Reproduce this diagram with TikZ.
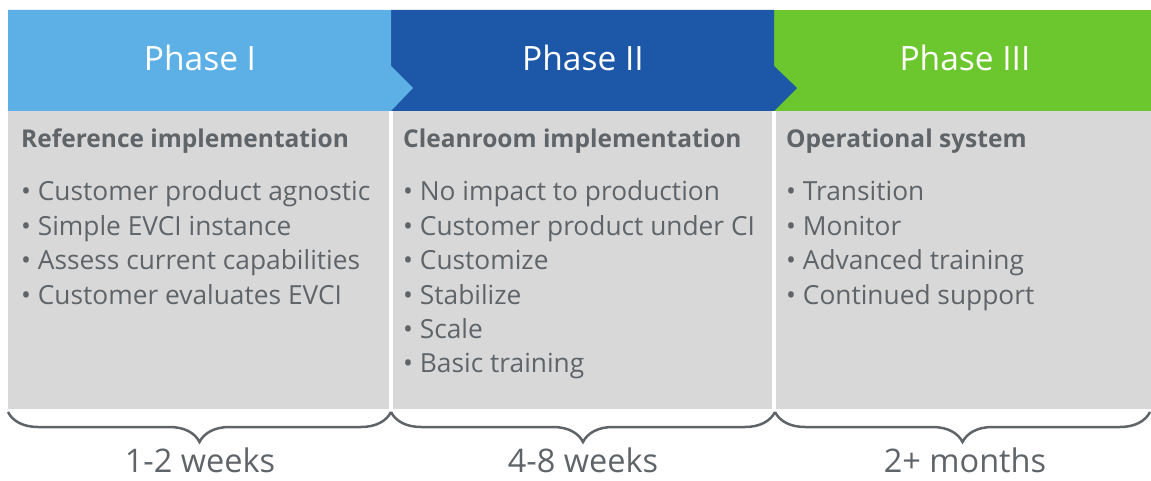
\documentclass[tikz,border=0pt]{standalone}
\usepackage{fontspec}
\setmainfont{Open Sans}
\usetikzlibrary{decorations.pathreplacing}

\definecolor{phaseone}{HTML}{5DB0E6}
\definecolor{phasetwo}{HTML}{1D57A7}
\definecolor{phasethree}{HTML}{6CC72E}
\definecolor{panel}{HTML}{D8D8D8}
\definecolor{ink}{HTML}{5F6469}

\begin{document}
\begin{tikzpicture}[x=1pt, y=-1pt,
		head/.style={text=white, font=\fontsize{33.5}{33.5}\selectfont, anchor=base, inner sep=0},
		panelbox/.style={fill=panel, anchor=north west, inner sep=0, minimum height=298pt},
		title/.style={text=ink, font=\bfseries\fontsize{24.5}{28}\selectfont, anchor=base west, inner sep=0},
		item/.style={text=ink, font=\fontsize{26.3}{30}\selectfont, anchor=base west, inner sep=0},
		span/.style={draw=ink, line width=2.5pt, decorate, decoration={brace, amplitude=30pt, mirror}},
		timespan/.style={text=ink, font=\fontsize{32.5}{32.5}\selectfont, anchor=base, inner sep=0}]
		\useasboundingbox (0,0) rectangle (1151,481);

		% headers
		\fill[phasethree] (774,10) rectangle (1151,111);
		\fill[phasetwo] (391,10) -- (774,10) -- (774,66) -- (797,88) -- (774,111) -- (391,111) -- cycle;
		\fill[phaseone] (8,10) -- (391,10) -- (391,66) -- (413,88) -- (391,111) -- (8,111) -- cycle;
		\node[head] (h1) at (200,71) {Phase I};
		\node[head] (h2) at (583,71) {Phase II};
		\node[head] (h3) at (965,71) {Phase III};

		% panels
		\node[panelbox, minimum width=381pt] (p1) at (8,111) {};
		\node[panelbox, minimum width=379pt] (p2) at (393,111) {};
		\node[panelbox, minimum width=375pt] (p3) at (776,111) {};

		\node[title] (t1) at (21,148) {Reference implementation};
		\node[item] (a1) at (21,201) {• Customer product agnostic};
		\node[item] (a2) at (21,235.3) {• Simple EVCI instance};
		\node[item] (a3) at (21,269.6) {• Assess current capabilities};
		\node[item] (a4) at (21,304) {• Customer evaluates EVCI};

		\node[title] (t2) at (403,148) {Cleanroom implementation};
		\node[item] (b1) at (403,201) {• No impact to production};
		\node[item] (b2) at (403,235.3) {• Customer product under CI};
		\node[item] (b3) at (403,269.6) {• Customize};
		\node[item] (b4) at (403,304) {• Stabilize};
		\node[item] (b5) at (403,338.3) {• Scale};
		\node[item] (b6) at (403,372.6) {• Basic training};

		\node[title] (t3) at (786,148) {Operational system};
		\node[item] (c1) at (786,201) {• Transition};
		\node[item] (c2) at (786,235.3) {• Monitor};
		\node[item] (c3) at (786,269.6) {• Advanced training};
		\node[item] (c4) at (786,304) {• Continued support};

		% durations
		\coordinate (s0) at (8,412);
		\coordinate (s1) at (391,412);
		\coordinate (s2) at (775,412);
		\coordinate (s3) at (1150,412);
		\draw[span] (s0) -- (s1);
		\draw[span] (s1) -- (s2);
		\draw[span] (s2) -- (s3);

		\node[timespan] (d1) at (200,472) {1-2 weeks};
		\node[timespan] (d2) at (583,472) {4-8 weeks};
		\node[timespan] (d3) at (965,472) {2+ months};
	\end{tikzpicture}
\end{document}
